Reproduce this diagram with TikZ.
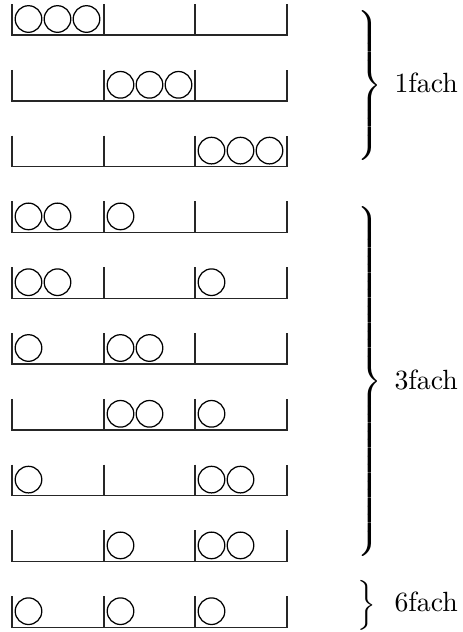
\documentclass[tikz,border=0pt]{standalone}
\tikzset{
  frame/.style={line width=0.5pt, black!85},
  ball/.style={line width=0.45pt},
  lbl/.style={anchor=base west, inner sep=0pt},
  brc/.style={anchor=west, inner sep=0pt},
}
\begin{document}
\begin{tikzpicture}[x=0.3597pt,y=-0.3597pt]
\path[use as bounding box] (0,0) rectangle (462,632);
% one row per distribution: balls in box 1 / box 2 / box 3
\foreach \a/\b/\c [count=\r from 0] in {3/0/0,0/3/0,0/0/3,2/1/0,2/0/1,1/2/0,0/2/1,1/0/2,0/1/2,1/1/1} {
  \pgfmathsetmacro\yb{35+65.8*\r}
  \draw[frame] (12,\yb-31) -- (12,\yb) -- (287,\yb) -- (287,\yb-31);
  \draw[frame] (104,\yb-31) -- (104,\yb);
  \draw[frame] (195,\yb-31) -- (195,\yb);
  \foreach \x/\n in {12/\a,104/\b,195/\c} {
    \ifnum\n>0
      \foreach \k in {1,...,\n} {
        \draw[ball] (\x+16.5+29*\k-29,\yb-16) circle[radius=13.3];
      }
    \fi
  }
}
% braces grouping the rows
\node[brc] (b1) at (354,85.5) {$\left.\vrule height 30.5pt depth 25.5pt width 0pt\right\}$};
\node[brc] (b3) at (354,381.5) {$\left.\vrule height 67.5pt depth 62.5pt width 0pt\right\}$};
\node[brc] (b6) at (354,605) {$\left.\vrule height 12pt depth 7pt width 0pt\right\}$};
\node[lbl] (t1) at (394,92.3) {1fach};
\node[lbl] (t3) at (394,389) {3fach};
\node[lbl] (t6) at (394,611.5) {6fach};
\end{tikzpicture}
\end{document}
